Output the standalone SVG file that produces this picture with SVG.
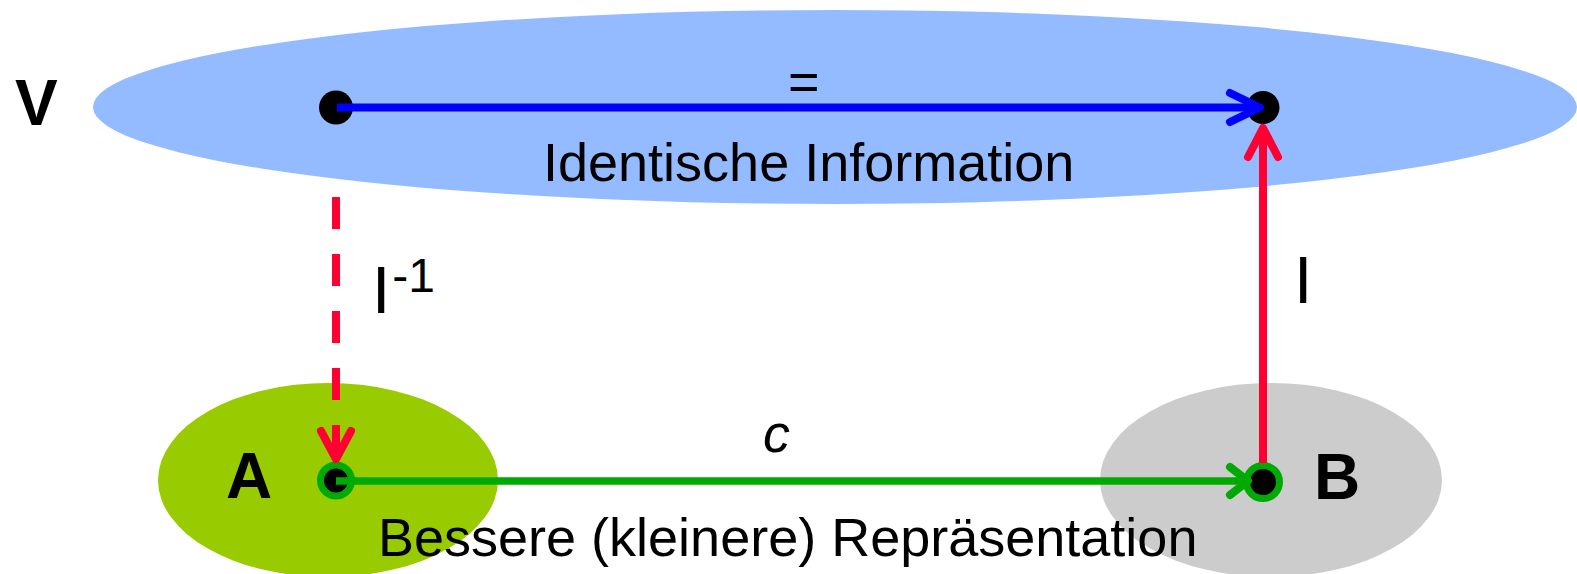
<svg xmlns="http://www.w3.org/2000/svg" width="1577" height="574" viewBox="0 0 1577 574">
<style>
text{font-family:"Liberation Sans",Arial,sans-serif;fill:#000}
.big{font-size:64px;font-weight:bold}
.lbl{font-size:54px}
.arm{fill:none;stroke-linecap:round;stroke-linejoin:round;stroke-width:8}
.ln{stroke-width:8;fill:none}
.red{stroke:#FF0033}
.blue{stroke:#0000FF}
.green{stroke:#00AA00}
.dot{fill:#000}
.ring{fill:#000;stroke:#00AA00;stroke-width:7}
</style>
<rect width="1577" height="574" fill="#fff"/>
<g id="node-V">
<ellipse cx="835" cy="107" rx="742" ry="97" fill="#94BBFF"/>
<text class="big" x="15" y="125">V</text>
<text class="lbl" x="543" y="181">Identische Information</text>
</g>
<g id="node-A">
<ellipse cx="328" cy="480" rx="170" ry="97" fill="#99CC00"/>
<text class="big" x="226" y="498">A</text>
</g>
<g id="node-B">
<ellipse cx="1271" cy="480" rx="171" ry="97" fill="#CCCCCC"/>
<text class="big" x="1314" y="499">B</text>
</g>
<text class="lbl" x="378" y="556">Bessere (kleinere) Repräsentation</text>
<g id="point-v1"><circle class="dot" cx="336" cy="107.5" r="17"/></g>
<g id="point-v2"><circle class="dot" cx="1263" cy="107.5" r="16.5"/></g>
<g id="point-a"><circle class="ring" cx="336" cy="480.5" r="15.5"/></g>
<g id="point-b"><circle class="ring" cx="1263" cy="482" r="16.5"/></g>
<g id="connectors">
<line class="ln blue" x1="337" y1="107.5" x2="1258" y2="107.5"/>
<polyline class="arm blue" points="1230,93 1260,107.5 1230,122"/>
<text class="lbl" x="788" y="100">=</text>
<line class="ln red" x1="1263" y1="463" x2="1263" y2="130"/>
<polyline class="arm red" points="1248,157 1263,128 1278,157"/>
<text style="font-size:66px" x="1294" y="303">I</text>
<line class="ln red" x1="336" y1="197" x2="336" y2="457" stroke-dasharray="32 25"/>
<polyline class="arm red" points="321,431 336,459 351,431"/>
<text style="font-size:66px" x="372" y="313">I<tspan style="font-size:48px" dx="2" dy="-21">-1</tspan></text>
<line class="ln green" style="stroke-width:7.5" x1="336" y1="481" x2="1246" y2="481"/>
<polyline class="arm green" points="1230,467 1248,481 1230,495"/>
<text class="lbl" style="font-style:italic" x="763" y="452">c</text>
</g>
</svg>
